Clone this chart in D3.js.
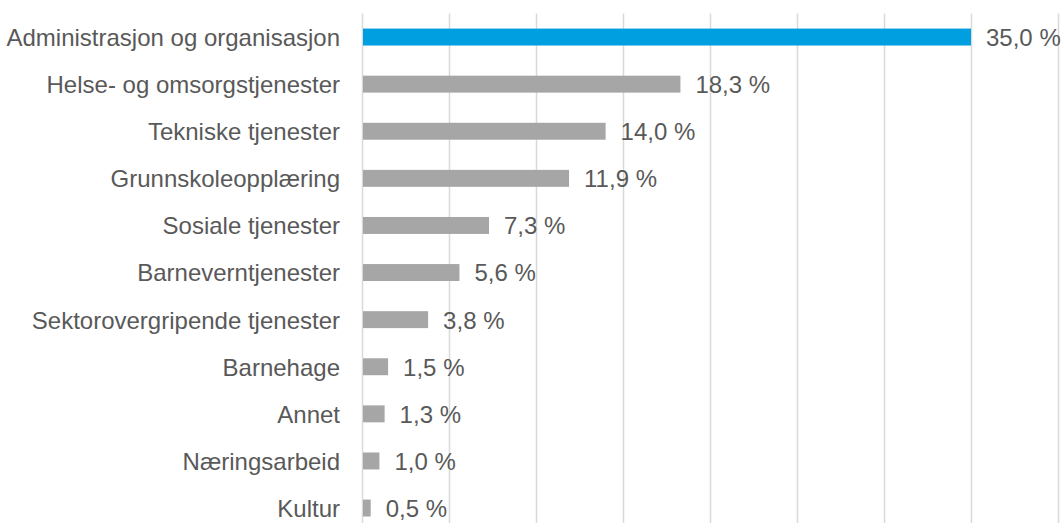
<!DOCTYPE html>
<html>
<head>
<meta charset="utf-8">
<script src="https://cdn.jsdelivr.net/npm/d3@7"></script>
<style>
  body { margin: 0; background: #fff; }
  text { font-family: "Liberation Sans", Arial, sans-serif; fill: #595959; }
</style>
</head>
<body>
<div id="chart-area"></div>
<script>
// Data
let categories = ["Administrasjon og organisasjon", "Helse- og omsorgstjenester", "Tekniske tjenester",
    "Grunnskoleopplæring", "Sosiale tjenester", "Barneverntjenester", "Sektorovergripende tjenester",
    "Barnehage", "Annet", "Næringsarbeid", "Kultur"];
let values = [35.0, 18.3, 14.0, 11.9, 7.3, 5.6, 3.8, 1.5, 1.3, 1.0, 0.5];
let gridTicks = [0, 5, 10, 15, 20, 25, 30, 35, 40];

// Chart area
let width = 1064, height = 523;
let margin = {top: 13.5, bottom: 531.6, left: 362, right: 1058};

let svg = d3.select("#chart-area").append("svg")
    .attr("width", width)
    .attr("height", height);

let x = d3.scaleLinear().domain([0, 40]).range([margin.left, margin.right]);
let y = d3.scaleBand().domain(categories).range([margin.top, margin.bottom]).paddingInner(0.64).paddingOuter(0.32);

// Gridlines
svg.selectAll(".grid")
    .data(gridTicks)
    .enter()
    .append("line")
    .attr("class", "grid")
    .attr("x1", d => Math.round(x(d)) + 0.5)
    .attr("x2", d => Math.round(x(d)) + 0.5)
    .attr("y1", margin.top)
    .attr("y2", margin.bottom)
    .attr("stroke", "#d9d9d9")
    .attr("stroke-width", 1.5);

// Bars
svg.selectAll(".bar")
    .data(values)
    .enter()
    .append("rect")
    .attr("class", "bar")
    .attr("x", x(0) + 1)
    .attr("y", (d, i) => y(categories[i]))
    .attr("width", d => x(d) - x(0) - 1)
    .attr("height", y.bandwidth())
    .attr("fill", (d, i) => i === 0 ? "#009fdf" : "#a6a6a6");

// Value labels
svg.selectAll(".value")
    .data(values)
    .enter()
    .append("text")
    .attr("class", "value")
    .attr("x", d => x(d) + 15)
    .attr("y", (d, i) => y(categories[i]) + y.bandwidth() / 2)
    .attr("dy", "0.37em")
    .style("font-size", "24px")
    .text(d => d.toFixed(1).replace(".", ",") + " %");

// Category labels
svg.selectAll(".cat")
    .data(categories)
    .enter()
    .append("text")
    .attr("class", "cat")
    .attr("x", 340)
    .attr("y", d => y(d) + y.bandwidth() / 2)
    .attr("dy", "0.37em")
    .attr("text-anchor", "end")
    .style("font-size", "24px")
    .text(d => d);
</script>
</body>
</html>
